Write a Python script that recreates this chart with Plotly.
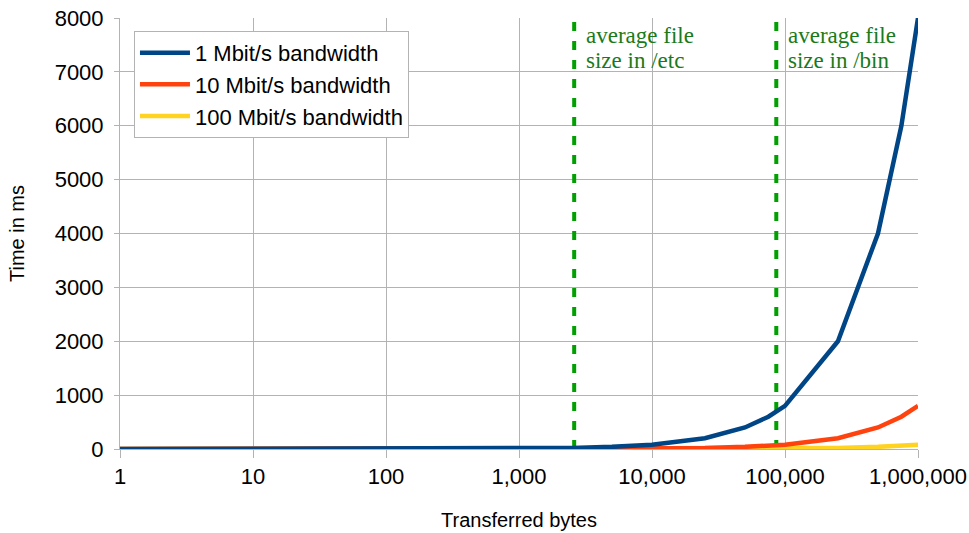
import math
import plotly.graph_objects as go

# Data
bytes_x = [1, 2.5, 5, 7.5, 10, 25, 50, 75, 100, 250, 500, 750, 1000, 2500, 5000, 7500,
           10000, 25000, 50000, 75000, 100000, 250000, 500000, 750000, 1000000]
t_1mbit = [0.008, 0.02, 0.04, 0.06, 0.08, 0.2, 0.4, 0.6, 0.8, 2, 4, 6, 8, 20, 40, 60,
           80, 200, 400, 600, 800, 2000, 4000, 6000, 8000]
t_10mbit = [0.0008, 0.002, 0.004, 0.006, 0.008, 0.02, 0.04, 0.06, 0.08, 0.2, 0.4, 0.6, 0.8, 2, 4, 6,
            8, 20, 40, 60, 80, 200, 400, 600, 800]
t_100mbit = [0.00008, 0.0002, 0.0004, 0.0006, 0.0008, 0.002, 0.004, 0.006, 0.008, 0.02, 0.04, 0.06, 0.08, 0.2, 0.4, 0.6,
             0.8, 2, 4, 6, 8, 20, 40, 60, 80]
series_names = ["1 Mbit/s bandwidth", "10 Mbit/s bandwidth", "100 Mbit/s bandwidth"]
series_colors = ["#004586", "#ff420e", "#ffd320"]
avg_sizes = [2600, 86000]
avg_labels = [["average file", "size in /etc"], ["average file", "size in /bin"]]
x_tickvals = [1, 10, 100, 1000, 10000, 100000, 1000000]
x_ticktext = ["1", "10", "100", "1,000", "10,000", "100,000", "1,000,000"]
y_tickvals = [0, 1000, 2000, 3000, 4000, 5000, 6000, 7000, 8000]

fig = go.Figure()

for v in avg_sizes:
    fig.add_trace(go.Scatter(x=[v, v], y=[0, 8000], mode="lines", showlegend=False,
                             line=dict(color="#00a000", width=4, dash="9px,10px"),
                             hoverinfo="skip"))

series = [t_1mbit, t_10mbit, t_100mbit]
# draw yellow first, blue last (on top); legend ranks keep blue first
for i in [2, 1, 0]:
    fig.add_trace(go.Scatter(x=bytes_x, y=series[i], mode="lines", name=series_names[i],
                             line=dict(color=series_colors[i], width=4.5),
                             legendrank=i + 1, cliponaxis=False))

for v, lines in zip(avg_sizes, avg_labels):
    for k, line in enumerate(lines):
        fig.add_annotation(x=math.log10(v), y=1, xref="x", yref="paper", text=line,
                           showarrow=False, xanchor="left", yanchor="top", align="left",
                           xshift=10, yshift=-3 - 25 * k,
                           font=dict(family="Liberation Serif, serif", size=23, color="#1a7a1a"))

grid = "#b3b3b3"
fig.update_xaxes(type="log", range=[0, 6], tickvals=x_tickvals, ticktext=x_ticktext,
                 showgrid=True, gridcolor=grid, gridwidth=1, zeroline=False,
                 showline=True, linecolor=grid, ticks="outside", ticklen=8, tickcolor=grid,
                 tickfont=dict(size=22, color="#000"),
                 title=dict(text="Transferred bytes", font=dict(size=20, color="#000"), standoff=24))
fig.update_yaxes(range=[0, 8000], tickvals=y_tickvals,
                 showgrid=True, gridcolor=grid, gridwidth=1, zeroline=False,
                 showline=True, linecolor=grid, ticks="outside", ticklen=5, tickcolor=grid,
                 ticklabelstandoff=6,
                 tickfont=dict(size=22, color="#000"),
                 title=dict(text="Time in ms", font=dict(size=20, color="#000"), standoff=24))

fig.update_layout(
    width=969, height=533,
    margin=dict(l=120, r=51, t=18, b=84, autoexpand=False),
    paper_bgcolor="white", plot_bgcolor="white",
    font=dict(family="Liberation Sans, Arial, sans-serif", color="#000"),
    legend=dict(x=0.0175, y=0.97, xanchor="left", yanchor="top",
                bordercolor=grid, borderwidth=1, bgcolor="white",
                font=dict(size=22), itemwidth=50, tracegroupgap=0),
    showlegend=True,
)

fig.write_html("out.html")
